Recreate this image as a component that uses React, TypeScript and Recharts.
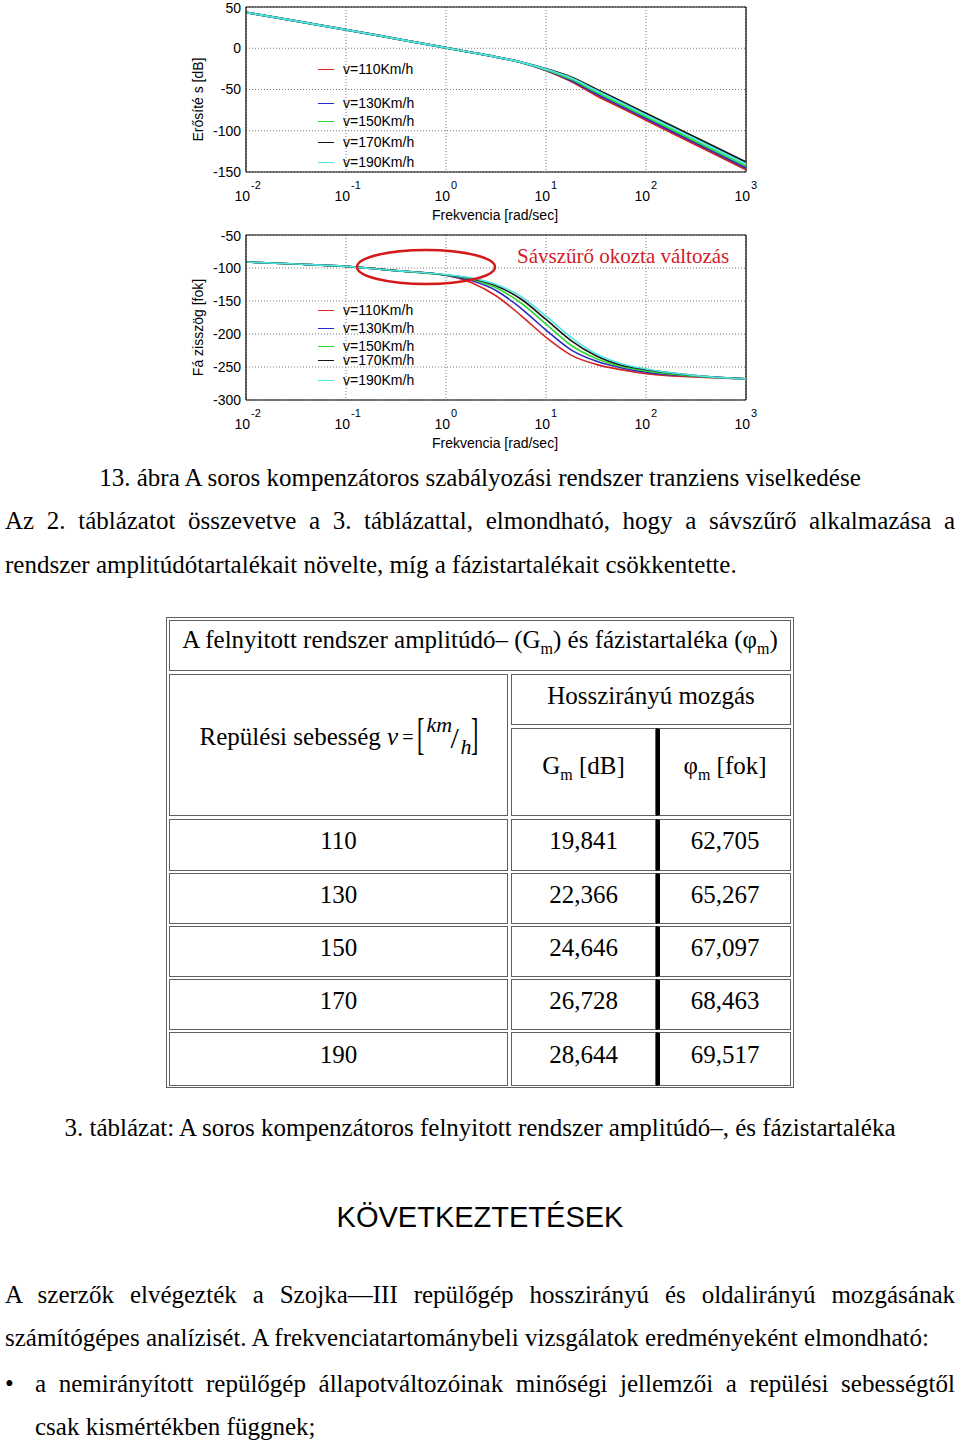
import React from 'react';
import { LineChart, Line, XAxis, YAxis, CartesianGrid, ReferenceLine, ReferenceDot, Legend } from 'recharts';

// ---------- data ----------
const freqs = [0.01, 0.0316, 0.1, 0.316, 1, 1.78, 3.16, 5.62, 10, 17.8, 31.6, 56.2, 100, 316, 1000];
const freqTicks = [0.01, 0.1, 1, 10, 100, 1000];
const magTicks = [-150, -100, -50, 0, 50];
const phaseTicks = [-300, -250, -200, -150, -100, -50];
const seriesLabels = ['v=110Km/h', 'v=130Km/h', 'v=150Km/h', 'v=170Km/h', 'v=190Km/h'];

const mag110 = [43.5, 33, 22.5, 11.5, 0.5, -5, -10.5, -17, -27, -40, -57, -72, -87, -117, -147];
const mag130 = [43.5, 33, 22.5, 11.5, 0.5, -5, -10.5, -17, -26.5, -39, -55, -70, -85, -115, -145];
const mag150 = [43.5, 33, 22.5, 11.5, 0.5, -5, -10.5, -17, -26, -37.5, -53, -68, -83, -113, -142.5];
const mag170 = [43.5, 33, 22.5, 11.5, 0.5, -5, -10.5, -17, -25, -35, -49.5, -64, -79, -108.5, -138];
const mag190 = [43.5, 33, 22.5, 11.5, 0.5, -5, -10.5, -17, -25.5, -36, -51, -66, -81, -110.5, -140.5];

const ph110 = [-91, -94, -97.5, -104, -111, -122, -142, -172, -205, -232, -246, -254, -260, -265, -268];
const ph130 = [-91, -94, -97.5, -104, -111, -119, -134, -161, -194, -224, -241, -251, -258, -264, -268];
const ph150 = [-91, -94, -97.5, -104, -111, -117, -130, -153, -185, -217, -237, -249, -256, -264, -268];
const ph170 = [-91, -94, -97.5, -104, -110.5, -116, -127, -147, -178, -210, -233, -247, -254, -263, -268];
const ph190 = [-91, -94, -97.5, -104, -110, -115, -125, -143, -173, -205, -230, -245, -253, -263, -268];

const speeds = ['110', '130', '150', '170', '190'];
const gainMargins = ['19,841', '22,366', '24,646', '26,728', '28,644'];
const phaseMargins = ['62,705', '65,267', '67,097', '68,463', '69,517'];

const keys = ['s110', 's130', 's150', 's170', 's190'];
const colors = ['#d42424', '#2a2ac4', '#30d830', '#151515', '#50e4e4'];

const magSeries = [mag110, mag130, mag150, mag170, mag190];
const phSeries = [ph110, ph130, ph150, ph170, ph190];
const magData = freqs.map((f, i) => {
  const o: any = { f };
  keys.forEach((k, j) => (o[k] = magSeries[j][i]));
  return o;
});
const phData = freqs.map((f, i) => {
  const o: any = { f };
  keys.forEach((k, j) => (o[k] = phSeries[j][i]));
  return o;
});

// ---------- styles ----------
const serif = '"Liberation Serif", "Times New Roman", Times, serif';
const sans = '"Liberation Sans", Arial, Helvetica, sans-serif';

const LogTick = (props: any) => {
  const { x, y, payload } = props;
  const e = Math.round(Math.log10(payload.value));
  return (
    <g fontFamily={sans} fill="#000">
      <text x={x + 4} y={y + 29} textAnchor="end" fontSize={14} fill="#000">10</text>
      <text x={x + 5} y={y + 17} textAnchor="start" fontSize={11} fill="#000">{e}</text>
    </g>
  );
};

const YLabel = (props: any) => {
  const vb = props.viewBox || { x: 0, y: 0, width: 0, height: 0 };
  const cx = vb.x + 17;
  const cy = vb.y + vb.height / 2 + 10;
  return (
    <text x={cx} y={cy} transform={`rotate(-90 ${cx} ${cy})`} textAnchor="middle" fontSize={14} fontFamily={sans} fill="#000">
      {props.text}
    </text>
  );
};

const XLabel = (props: any) => {
  const vb = props.viewBox || { x: 0, y: 0, width: 0, height: 0 };
  return (
    <text x={vb.x + vb.width / 2 - 1} y={vb.y + 48} textAnchor="middle" fontSize={14} fontFamily={sans} fill="#000">
      {props.text}
    </text>
  );
};

const makeLegend = (offsets: number[]) => () => (
  <div style={{ position: 'relative', width: 130, height: 110, fontFamily: sans, fontSize: 14 }}>
    {seriesLabels.map((l, i) => (
      <div key={l} style={{ position: 'absolute', left: 0, top: offsets[i] - 9, height: 18, display: 'flex', alignItems: 'center', whiteSpace: 'nowrap' }}>
        <span style={{ display: 'inline-block', width: 16, height: 1, background: colors[i] }} />
        <span style={{ marginLeft: 9, color: '#000' }}>{l}</span>
      </div>
    ))}
  </div>
);

const EllipseShape = (props: any) => (
  <ellipse cx={props.cx} cy={props.cy} rx={69} ry={17} fill="none" stroke="#d41a1a" strokeWidth={2.5} />
);

const margin = { top: 7, right: 214, bottom: 18, left: 186 };

function MagPlot() {
  return (
    <LineChart width={960} height={230} data={magData} margin={margin}>
      <CartesianGrid stroke="#7a7a7a" strokeDasharray="1 2" />
      <XAxis
        dataKey="f"
        type="number"
        scale="log"
        domain={[0.01, 1000]}
        ticks={freqTicks}
        allowDataOverflow
        height={40}
        tickLine={false}
        tickSize={0}
        tickMargin={0}
        axisLine={{ stroke: '#000', strokeWidth: 1.2 }}
        tick={<LogTick />}
        label={<XLabel text="Frekvencia [rad/sec]" />}
      />
      <YAxis
        type="number"
        domain={[-150, 50]}
        ticks={magTicks}
        allowDataOverflow
        width={60}
        tickLine={false}
        tickSize={0}
        tickMargin={5}
        axisLine={{ stroke: '#000', strokeWidth: 1.2 }}
        tick={{ fill: '#000', fontSize: 14, fontFamily: sans }}
        label={<YLabel text="Erősíté s [dB]" />}
      />
      <ReferenceLine y={50} stroke="#000" strokeWidth={1.2} />
      <ReferenceLine x={1000} stroke="#000" strokeWidth={1.2} />
      {keys.map((k, i) => (
        <Line key={k} dataKey={k} type="monotone" stroke={colors[i]} strokeWidth={2} dot={false} isAnimationActive={false} />
      ))}
      <Legend
        layout="vertical"
        align="center"
        verticalAlign="middle"
        wrapperStyle={{ left: 318, top: 58, width: 130 }}
        content={makeLegend([11, 45, 63, 84, 104])}
      />
    </LineChart>
  );
}

function PhasePlot() {
  return (
    <LineChart width={960} height={230} data={phData} margin={margin}>
      <CartesianGrid stroke="#7a7a7a" strokeDasharray="1 2" />
      <XAxis
        dataKey="f"
        type="number"
        scale="log"
        domain={[0.01, 1000]}
        ticks={freqTicks}
        allowDataOverflow
        height={40}
        tickLine={false}
        tickSize={0}
        tickMargin={0}
        axisLine={{ stroke: '#000', strokeWidth: 1.2 }}
        tick={<LogTick />}
        label={<XLabel text="Frekvencia [rad/sec]" />}
      />
      <YAxis
        type="number"
        domain={[-300, -50]}
        ticks={phaseTicks}
        allowDataOverflow
        width={60}
        tickLine={false}
        tickSize={0}
        tickMargin={5}
        axisLine={{ stroke: '#000', strokeWidth: 1.2 }}
        tick={{ fill: '#000', fontSize: 14, fontFamily: sans }}
        label={<YLabel text="Fá zisszög  [fok]" />}
      />
      <ReferenceLine y={-50} stroke="#000" strokeWidth={1.2} />
      <ReferenceLine x={1000} stroke="#000" strokeWidth={1.2} />
      {keys.map((k, i) => (
        <Line key={k} dataKey={k} type="monotone" stroke={colors[i]} strokeWidth={1.6} dot={false} isAnimationActive={false} />
      ))}
      <ReferenceDot x={0.631} y={-98.5} r={0} shape={<EllipseShape />} ifOverflow="visible" />
      <Legend
        layout="vertical"
        align="center"
        verticalAlign="middle"
        wrapperStyle={{ left: 318, top: 72, width: 130 }}
        content={makeLegend([10, 28, 46, 60, 80])}
      />
    </LineChart>
  );
}

const TextLine = ({ x, cy, w, size, justify, center, family, children, color }: any) => (
  <div
    style={{
      position: 'absolute',
      left: x,
      top: cy - size * 0.62,
      width: w,
      fontSize: size,
      lineHeight: `${Math.round(size * 1.2)}px`,
      fontFamily: family || serif,
      color: color || '#000',
      textAlign: justify ? 'justify' : center ? 'center' : 'left',
      textAlignLast: justify ? 'justify' : center ? 'center' : 'left',
      whiteSpace: justify ? 'normal' : 'nowrap',
    } as any}
  >
    {children}
  </div>
);

const Cell = ({ x, y, w, h, children, thick, pb }: any) => (
  <div
    style={{
      position: 'absolute',
      left: x,
      top: y,
      width: w,
      height: h,
      boxSizing: 'border-box',
      border: '1px solid #606060',
      borderLeft: thick ? '4px solid #000' : '1px solid #606060',
      paddingBottom: pb === undefined ? 8 : pb,
      display: 'flex',
      alignItems: 'center',
      justifyContent: 'center',
      fontFamily: serif,
      fontSize: 25,
      color: '#000',
      whiteSpace: 'nowrap',
    }}
  >
    {children}
  </div>
);

const rowTops = [819, 873, 926, 979, 1032];
const rowHeights = [52, 51, 51, 51, 54];
const subStyle = { fontSize: 16 };
const bracketStyle: any = { position: 'absolute', top: -2, fontSize: 44, fontWeight: 100, transform: 'scaleX(0.5)', transformOrigin: 'left center', lineHeight: '48px' };

export default function App() {
  return (
    <div style={{ position: 'absolute', left: 0, top: 0, width: 960, height: 1440, background: '#fff', overflow: 'hidden' }}>
      <div style={{ position: 'absolute', left: 0, top: 0 }}>
        <MagPlot />
      </div>
      <div style={{ position: 'absolute', left: 0, top: 228 }}>
        <PhasePlot />
      </div>
      <TextLine x={517} cy={257} w={240} size={21} color="#d01c28">Sávszűrő okozta változás</TextLine>

      <TextLine x={0} cy={478} w={960} size={25} center>
        13. ábra A soros kompenzátoros szabályozási rendszer tranziens viselkedése
      </TextLine>
      <TextLine x={5} cy={521} w={950} size={25} justify>
        Az 2. táblázatot összevetve a 3. táblázattal, elmondható, hogy a sávszűrő alkalmazása a
      </TextLine>
      <TextLine x={5} cy={565} w={950} size={25}>
        rendszer amplitúdótartalékait növelte, míg a fázistartalékait csökkentette.
      </TextLine>

      {/* table */}
      <div style={{ position: 'absolute', left: 166, top: 617, width: 628, height: 471, boxSizing: 'border-box', border: '1px solid #606060' }} />
      <Cell x={169} y={620} w={622} h={51}>
        <span>
          A felnyitott rendszer amplitúdó– (G<sub style={subStyle}>m</sub>) és fázistartaléka (φ<sub style={subStyle}>m</sub>)
        </span>
      </Cell>
      <Cell x={169} y={674} w={339} h={142} pb={16}>
        <span style={{ display: 'inline-flex', alignItems: 'center' }}>
          <span>Repülési sebesség&nbsp;</span>
          <i style={{ fontSize: 25 }}>v</i>
          <span style={{ fontSize: 20, margin: '0 4px' }}>=</span>
          <span style={{ position: 'relative', display: 'inline-block', width: 60, height: 48 }}>
            <span style={{ ...bracketStyle, left: 0 }}>[</span>
            <i style={{ position: 'absolute', left: 9, top: 0, fontSize: 22, lineHeight: '24px' }}>km</i>
            <span style={{ position: 'absolute', left: 33, top: 10, fontSize: 30, lineHeight: '30px' }}>/</span>
            <i style={{ position: 'absolute', left: 43, top: 22, fontSize: 22, lineHeight: '24px' }}>h</i>
            <span style={{ ...bracketStyle, left: 54 }}>]</span>
          </span>
        </span>
      </Cell>
      <Cell x={511} y={674} w={280} h={51}>Hosszirányú mozgás</Cell>
      <Cell x={511} y={728} w={145} h={88}>
        <span>G<sub style={subStyle}>m</sub> [dB]</span>
      </Cell>
      <Cell x={656} y={728} w={135} h={88} thick>
        <span>φ<sub style={subStyle}>m</sub> [fok]</span>
      </Cell>
      {speeds.map((s, i) => (
        <React.Fragment key={s}>
          <Cell x={169} y={rowTops[i]} w={339} h={rowHeights[i]}>{s}</Cell>
          <Cell x={511} y={rowTops[i]} w={145} h={rowHeights[i]}>{gainMargins[i]}</Cell>
          <Cell x={656} y={rowTops[i]} w={135} h={rowHeights[i]} thick>{phaseMargins[i]}</Cell>
        </React.Fragment>
      ))}

      <TextLine x={0} cy={1128} w={960} size={25} center>
        3. táblázat: A soros kompenzátoros felnyitott rendszer amplitúdó–, és fázistartaléka
      </TextLine>

      <TextLine x={0} cy={1218} w={960} size={29} center family={sans}>KÖVETKEZTETÉSEK</TextLine>

      <TextLine x={5} cy={1295} w={950} size={25} justify>
        A szerzők elvégezték a Szojka—III repülőgép hosszirányú és oldalirányú mozgásának
      </TextLine>
      <TextLine x={5} cy={1338} w={950} size={25}>
        számítógépes analízisét. A frekvenciatartománybeli vizsgálatok eredményeként elmondható:
      </TextLine>
      <TextLine x={5} cy={1384} w={20} size={25}>•</TextLine>
      <TextLine x={35} cy={1384} w={920} size={25} justify>
        a nemirányított repülőgép állapotváltozóinak minőségi jellemzői a repülési sebességtől
      </TextLine>
      <TextLine x={35} cy={1427} w={920} size={25}>csak kismértékben függnek;</TextLine>
    </div>
  );
}
